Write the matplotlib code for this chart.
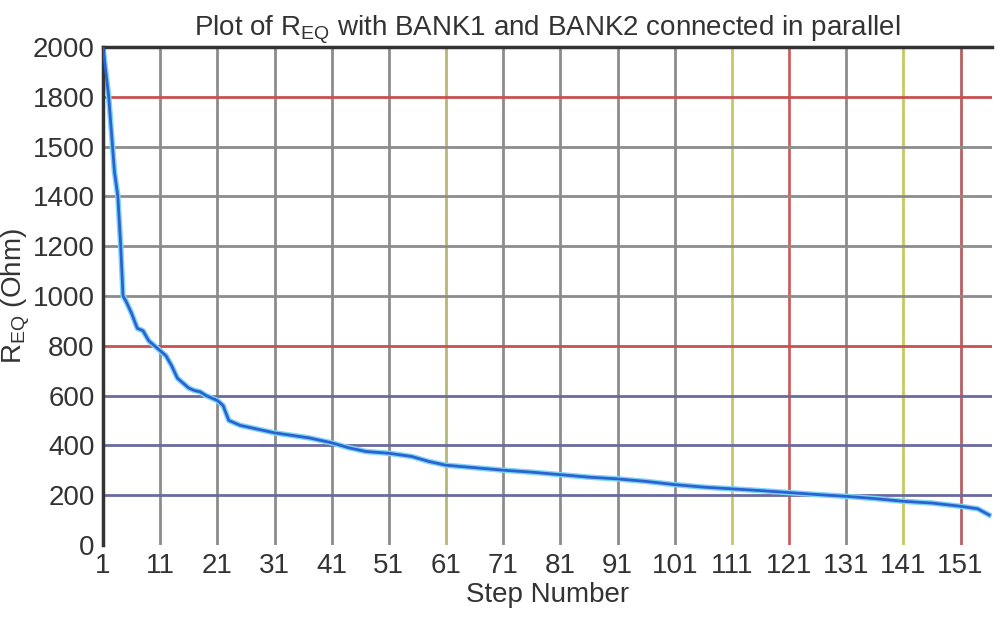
import matplotlib.pyplot as plt

steps = [1, 2, 3, 3.6, 4.1, 4.5, 5, 6, 7, 8, 9, 10, 11, 12, 13, 14, 15, 16, 17, 18,
         19, 20, 21, 22, 23, 25, 27, 29, 31, 34, 37, 41, 44, 47, 51, 55, 58, 61,
         66, 71, 76, 81, 86, 91, 96, 101, 106, 111, 116, 121, 126, 131, 136, 141,
         146, 151, 154, 156]
req = [2000, 1800, 1500, 1400, 1200, 1000, 980, 930, 870, 860, 820, 800, 780,
       760, 720, 670, 650, 630, 620, 615, 600, 590, 580, 560, 500, 480, 470,
       460, 450, 440, 430, 410, 390, 375, 368, 355, 335, 320, 310, 300, 292,
       282, 272, 265, 255, 242, 232, 225, 218, 210, 202, 195, 186, 175, 168,
       155, 145, 120]

xticks = list(range(1, 152, 10))
yticks = list(range(0, 2001, 200))
ylabels = ['0', '200', '400', '600', '800', '1000', '1200', '1400', '1500', '1800', '2000']

vcolors = {61: '#b8b870', 111: '#c8c860', 121: '#c86060', 141: '#c8c860', 151: '#b86060'}
hcolors = {1800: '#c85050', 800: '#c85050', 600: '#6a6aa0', 400: '#6a6aa0', 200: '#6a6aa0'}

plt.rcParams['font.family'] = ['Liberation Sans', 'DejaVu Sans']
fig = plt.figure(figsize=(10, 6.27), dpi=100)
ax = fig.add_axes([0.103, 0.131, 0.889, 0.794])

for x in xticks[1:]:
    ax.axvline(x, color=vcolors.get(x, '#8c8c8c'), lw=2, zorder=1)
for y in yticks[1:-1]:
    ax.axhline(y, color=hcolors.get(y, '#8c8c8c'), lw=2, zorder=1)

ax.plot(steps, req, color='#7fd4f5', lw=4, zorder=2)
ax.plot(steps, req, color='#2a62d0', lw=2, zorder=3)

ax.set_xlim(1, 156.5)
ax.set_ylim(0, 2000)
ax.set_xticks(xticks)
ax.set_yticks(yticks)
ax.set_yticklabels(ylabels)
ax.tick_params(length=0, labelsize=20, colors='#333333', pad=6)
for s in ['left', 'top']:
    ax.spines[s].set_linewidth(2.5)
    ax.spines[s].set_color('#333333')
ax.spines['right'].set_visible(False)
ax.spines['bottom'].set_visible(False)

ax.set_xlabel('Step Number', fontsize=20, color='#333333', labelpad=2)
ax.set_ylabel(r'R$_{\mathregular{EQ}}$ (Ohm)', fontsize=20, color='#333333', labelpad=0)
ax.set_title(r'Plot of R$_{\mathregular{EQ}}$ with BANK1 and BANK2 connected in parallel',
             fontsize=20, color='#333333', pad=8)

fig.savefig('out.png')
